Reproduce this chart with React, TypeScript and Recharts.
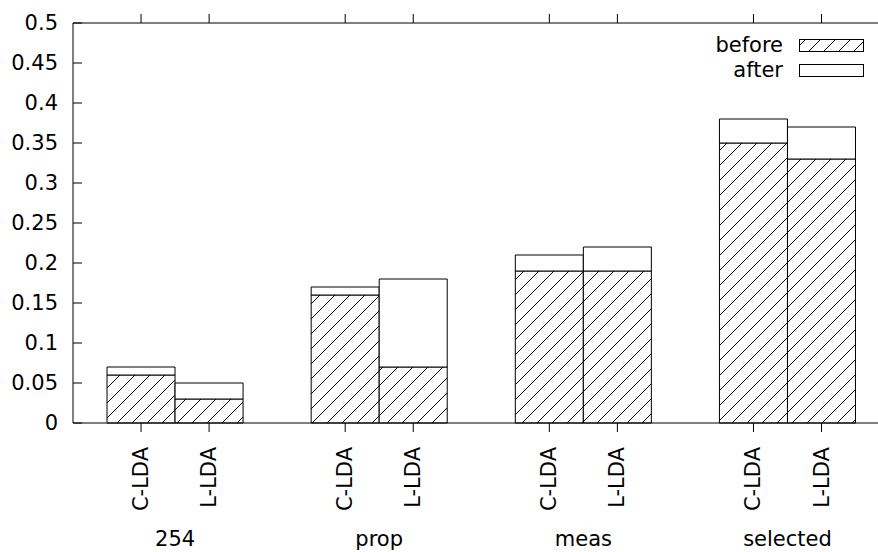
import React from 'react';
import { BarChart, Bar, XAxis, YAxis, Legend, ReferenceLine } from 'recharts';

const groups = ['254', 'prop', 'meas', 'selected'];
const methods = ['C-LDA', 'L-LDA'];
const beforeValues = [0.06, 0.03, 0.16, 0.07, 0.19, 0.19, 0.35, 0.33];
const totalValues = [0.07, 0.05, 0.17, 0.18, 0.21, 0.22, 0.38, 0.37];
const slotPositions = [1, 2, 4, 5, 7, 8, 10, 11];
const yTicks = [0, 0.05, 0.1, 0.15, 0.2, 0.25, 0.3, 0.35, 0.4, 0.45, 0.5];
const yTickLabels = ['0', '0.05', '0.1', '0.15', '0.2', '0.25', '0.3', '0.35', '0.4', '0.45', '0.5'];
const seriesNames = ['before', 'after'];

const data = slotPositions.map((x, i) => ({
  x,
  method: methods[i % 2],
  group: groups[Math.floor(i / 2)],
  before: beforeValues[i],
  after: Math.round((totalValues[i] - beforeValues[i]) * 1000) / 1000,
}));

const FONT = 'DejaVu Sans';
const FS = 21;
const X_MAX = 11.83;
const CHART_W = 878;
const CHART_H = 552;
const PLOT_LEFT = 73;
const PLOT_TOP = 23;
const PLOT_BOTTOM = 423;
const UNIT = (CHART_W - PLOT_LEFT) / X_MAX;

const YTick = (props: any) => {
  const { x, y, index } = props;
  return (
    <g>
      <line x1={PLOT_LEFT} x2={PLOT_LEFT + 9} y1={y} y2={y} stroke="#000" strokeWidth={1} />
      <text x={PLOT_LEFT - 15} y={y} textAnchor="end" dominantBaseline="central" fontFamily={FONT} fontSize={FS} fill="#000">
        {yTickLabels[index]}
      </text>
    </g>
  );
};

const MethodTick = (props: any) => {
  const { x, payload } = props;
  const i = data.findIndex((d) => d.x === payload.value);
  if (i < 0) return <g />;
  const row = data[i];
  const ty = PLOT_BOTTOM + 24;
  const isLast = i % 2 === 1;
  const prev = isLast ? data[i - 1] : null;
  const gx = prev ? x - ((row.x - prev.x) / 2) * UNIT : 0;
  return (
    <g>
      <line x1={x} x2={x} y1={PLOT_TOP} y2={PLOT_TOP - 9} stroke="#000" strokeWidth={1} />
      <text x={x} y={ty} transform={`rotate(-90 ${x} ${ty})`} textAnchor="end" dominantBaseline="central" fontFamily={FONT} fontSize={FS} fill="#000">
        {row.method}
      </text>
      {prev && (
        <text x={gx} y={539} textAnchor="middle" dominantBaseline="central" fontFamily={FONT} fontSize={FS} fill="#000">
          {row.group}
        </text>
      )}
    </g>
  );
};

const LegendContent = () => (
  <svg width={200} height={60} style={{ display: 'block' }}>
    {seriesNames.map((name, i) => (
      <g key={name}>
        <text x={103} y={15 + i * 25} textAnchor="end" dominantBaseline="central" fontFamily={FONT} fontSize={FS} fill="#000">
          {name}
        </text>
        <rect x={119.5} y={9.5 + i * 25} width={64} height={12} fill={i === 0 ? 'url(#hatch)' : '#fff'} stroke="#000" strokeWidth={1} />
      </g>
    ))}
  </svg>
);

export default function App() {
  return (
    <div style={{ position: 'absolute', left: 0, top: 0, width: CHART_W, height: CHART_H, background: '#fff' }}>
      <BarChart
        width={CHART_W}
        height={CHART_H}
        data={data}
        margin={{ top: PLOT_TOP, right: 0, bottom: 0, left: 0 }}
        barCategoryGap={0}
        barGap={0}
      >
        <defs>
          <pattern id="hatch" patternUnits="userSpaceOnUse" width={15} height={15}>
            <rect x={0} y={0} width={15} height={15} fill="#fff" />
            <path d="M0,15 L15,0 M-3.75,3.75 L3.75,-3.75 M11.25,18.75 L18.75,11.25" stroke="#000" strokeWidth={1} />
          </pattern>
        </defs>
        <XAxis
          dataKey="x"
          type="number"
          domain={[0, X_MAX]}
          allowDataOverflow
          ticks={slotPositions}
          interval={0}
          height={CHART_H - PLOT_BOTTOM}
          tickSize={9}
          tickMargin={0}
          axisLine={{ stroke: '#000', strokeWidth: 1 }}
          tickLine={{ stroke: '#000', strokeWidth: 1 }}
          tick={<MethodTick />}
        />
        <YAxis
          type="number"
          domain={[0, 0.5]}
          ticks={yTicks}
          interval={0}
          width={PLOT_LEFT}
          tickSize={0}
          tickMargin={0}
          tickLine={false}
          axisLine={{ stroke: '#000', strokeWidth: 1 }}
          tick={<YTick />}
        />
        <ReferenceLine y={0.5} stroke="#000" strokeWidth={1} ifOverflow="visible" />
        <Legend
          layout="vertical"
          align="center"
          verticalAlign="middle"
          content={<LegendContent />}
          wrapperStyle={{ position: 'absolute', left: 680, top: 30, width: 200, height: 60 }}
        />
        <Bar dataKey="before" stackId="s" fill="url(#hatch)" stroke="#000" strokeWidth={1} isAnimationActive={false} />
        <Bar dataKey="after" stackId="s" fill="#fff" stroke="#000" strokeWidth={1} isAnimationActive={false} />
      </BarChart>
    </div>
  );
}
